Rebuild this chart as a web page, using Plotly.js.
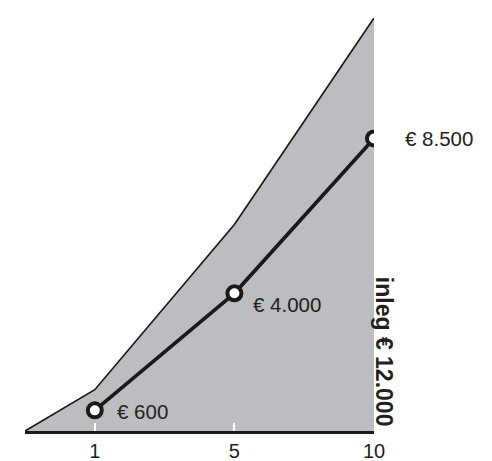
<!DOCTYPE html>
<html>
<head>
<meta charset="utf-8">
<script src="https://cdn.plot.ly/plotly-3.0.1.min.js"></script>
<style>html,body{margin:0;padding:0;background:#fff;}#chart{width:492px;height:461px;}</style>
</head>
<body>
<div id="chart"></div>
<script>
// Data
var years = ['1', '5', '10'];
var yearPos = [0, 1, 2];
var values = [600, 4000, 8500];
var valueLabels = ['€ 600', '€ 4.000', '€ 8.500'];
var inlegPos = [-0.5, 0, 1, 2];
var inlegValues = [0, 1200, 6000, 12000];
var inlegLabel = 'inleg € 12.000';

var FONT = 'Liberation Sans, Arial, Helvetica, sans-serif';

var fillTrace = {
  x: inlegPos, y: inlegValues, type: 'scatter', mode: 'lines',
  fill: 'tozeroy', fillcolor: '#bcbdc0',
  line: {color: '#1a1a1a', width: 1.7},
  hoverinfo: 'skip', showlegend: false
};
var lineTrace = {
  x: yearPos, y: values, type: 'scatter', mode: 'lines+markers',
  line: {color: '#1a1a1a', width: 3.6},
  marker: {size: 14, color: '#ffffff', line: {color: '#1a1a1a', width: 4}},
  showlegend: false
};

var shifts = [[20, -1], [17, -11], [29, 0]];
var annotations = values.map(function (v, i) {
  return {
    x: yearPos[i], y: v, xref: 'x', yref: 'y', text: valueLabels[i],
    showarrow: false, xanchor: 'left', yanchor: 'middle',
    xshift: shifts[i][0], yshift: shifts[i][1],
    font: {family: FONT, size: 20.5, color: '#231f20'}
  };
});
annotations.push({
  x: yearPos[2], y: 2300, xref: 'x', yref: 'y', text: '<b>' + inlegLabel + '</b>',
  showarrow: false, textangle: 90, xanchor: 'center', yanchor: 'middle', xshift: 10,
  font: {family: FONT, size: 23, color: '#231f20'}
});

var layout = {
  width: 492, height: 461,
  margin: {l: 25, r: 118, t: 18, b: 30},
  paper_bgcolor: '#ffffff', plot_bgcolor: 'rgba(0,0,0,0)',
  showlegend: false,
  xaxis: {
    range: [-0.5, 2], tickvals: yearPos, ticktext: years,
    showgrid: false, zeroline: false, showline: true, linecolor: '#1a1a1a', linewidth: 2.8,
    ticks: 'inside', ticklen: 8, tickwidth: 2, tickcolor: '#ffffff',
    tickfont: {family: FONT, size: 20, color: '#231f20'},
    fixedrange: true
  },
  yaxis: {
    range: [0, 12000], visible: false, showgrid: false, zeroline: false, fixedrange: true
  },
  annotations: annotations
};
Plotly.newPlot('chart', [fillTrace, lineTrace], layout, {displayModeBar: false, staticPlot: true});
</script>
</body>
</html>
